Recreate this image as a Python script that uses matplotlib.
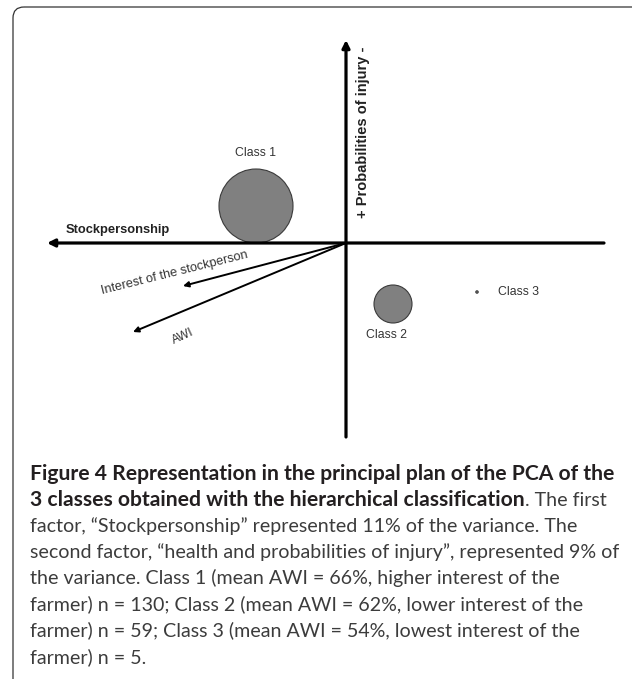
"""PCA principal plan of the 3 classes (Figure 4) with caption box."""

import matplotlib
matplotlib.use("Agg")
import matplotlib.pyplot as plt  # noqa: E402
from matplotlib.patches import Circle, FancyBboxPatch  # noqa: E402

# ── data (factor-plane units, origin = crossing of the two axes) ──
class_names = ["Class 1", "Class 2", "Class 3"]
class_x = [-0.90, 0.47, 1.31]
class_y = [0.37, -0.61, -0.49]
class_r = [0.37, 0.19, 0.012]

var_names = ["Interest of the stockperson", "AWI"]
var_x = [-1.63, -2.13]
var_y = [-0.43, -0.89]

axis_x = (-2.99, 2.58)   # horizontal factor axis extent
axis_y = (-1.94, 2.03)   # vertical factor axis extent
axis_names = ["Stockpersonship", "+ Probabilities of injury -"]

caption_bold = ["Figure 4 Representation in the principal plan of the PCA of the",
                "3 classes obtained with the hierarchical classification"]
caption_tail = ". The first"
caption_rest = [
    "factor, \u201cStockpersonship\u201d represented 11% of the variance. The",
    "second factor, \u201chealth and probabilities of injury\u201d, represented 9% of",
    "the variance. Class 1 (mean AWI = 66%, higher interest of the",
    "farmer) n = 130; Class 2 (mean AWI = 62%, lower interest of the",
    "farmer) n = 59; Class 3 (mean AWI = 54%, lowest interest of the",
    "farmer) n = 5.",
]

W, H = 632, 679
CHART_FONT = ["Liberation Sans", "DejaVu Sans"]
CAP_FONT = ["Lato", "DejaVu Sans"]
BOLD_SIZE = 15.2
REG_SIZE = 14.1

fig = plt.figure(figsize=(W / 100, H / 100), dpi=100)

# overlay in pixel coordinates for the frame and caption
bg = fig.add_axes([0, 0, 1, 1])
bg.set_xlim(0, W); bg.set_ylim(H, 0); bg.axis("off")
bg.add_patch(FancyBboxPatch((13, 7), 640, 690,
                            boxstyle="round,pad=0,rounding_size=11",
                            fc="none", ec="#333333", lw=0.9))

# ── chart axes: 100 px per unit, origin at pixel (346, 243) ──
ox, oy = 346, 243
l, r, t, b = 20, 625, 20, 450
ax = fig.add_axes([l / W, 1 - b / H, (r - l) / W, (b - t) / H])
ax.set_xlim((l - ox) / 100, (r - ox) / 100)
ax.set_ylim((oy - b) / 100, (oy - t) / 100)
ax.axis("off")

axis_kw = dict(arrowstyle="-|>", lw=2.3, color="black", mutation_scale=11,
               shrinkA=0, shrinkB=0)
ax.annotate("", xy=(axis_x[0], 0), xytext=(axis_x[1], 0), arrowprops=axis_kw)
ax.annotate("", xy=(0, axis_y[1]), xytext=(0, axis_y[0]), arrowprops=axis_kw)

ax.text(-2.80, 0.13, axis_names[0], fontsize=9.3, fontweight="bold",
        family=CHART_FONT, color="#222222", ha="left", va="center")
ax.text(0.17, 1.11, axis_names[1], fontsize=10.5, fontweight="bold",
        family=CHART_FONT, color="#222222", rotation=90, ha="center", va="center")

# variable arrows
var_kw = dict(arrowstyle="-|>", lw=1.4, color="black", mutation_scale=8,
              shrinkA=0, shrinkB=0)
for vx, vy in zip(var_x, var_y):
    ax.annotate("", xy=(vx, vy), xytext=(0, 0), arrowprops=var_kw)
ax.text(-1.71, -0.30, var_names[0], fontsize=9.2, family=CHART_FONT,
        color="#333333", rotation=14, ha="center", va="center",
        rotation_mode="anchor")
ax.text(-1.63, -0.94, var_names[1], fontsize=8.8, family=CHART_FONT,
        color="#333333", rotation=25, ha="center", va="center",
        rotation_mode="anchor")

# class bubbles
for name, cx, cy, cr in zip(class_names, class_x, class_y, class_r):
    ax.add_patch(Circle((cx, cy), cr, fc="#808080", ec="#3a3a3a", lw=0.8))
ax.text(class_x[0], class_y[0] + class_r[0] + 0.16, class_names[0], fontsize=8.8,
        family=CHART_FONT, color="#333333", ha="center", va="center")
ax.text(class_x[1] - 0.06, class_y[1] - class_r[1] - 0.12, class_names[1],
        fontsize=8.8, family=CHART_FONT, color="#333333", ha="center", va="center")
ax.text(class_x[2] + 0.21, class_y[2], class_names[2], fontsize=8.8,
        family=CHART_FONT, color="#333333", ha="left", va="center")

# ── caption ──
x0, base0, step = 30, 480, 26.1
bold_kw = dict(fontsize=BOLD_SIZE, fontweight="bold", family=CAP_FONT,
               color="#231f20", va="baseline", ha="left")
reg_kw = dict(fontsize=REG_SIZE, fontweight="normal", family=CAP_FONT,
              color="#3c3c3c", va="baseline", ha="left")
bg.text(x0, base0, caption_bold[0], **bold_kw)
t2 = bg.text(x0, base0 + step, caption_bold[1], **bold_kw)
bg.annotate(caption_tail, xy=(1, 0.03), xycoords=t2, va="bottom", ha="left",
            fontsize=REG_SIZE, fontweight="normal", family=CAP_FONT,
            color="#3c3c3c")
for i, line in enumerate(caption_rest):
    bg.text(x0, base0 + step * (i + 2), line, **reg_kw)

fig.savefig("out.png", dpi=100)
